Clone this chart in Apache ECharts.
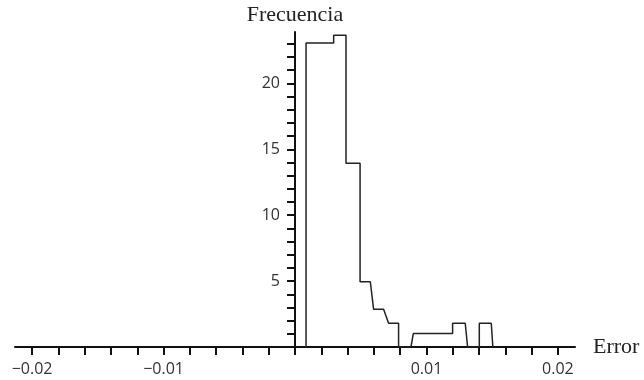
<!DOCTYPE html>
<html>
<head>
<meta charset="utf-8">
<script src="https://cdn.jsdelivr.net/npm/echarts@6/dist/echarts.min.js"></script>
<style>
  html, body { margin: 0; padding: 0; background: #fff; }
  #chart { width: 644px; height: 380px; }
</style>
</head>
<body>
<div id="chart"></div>
<script>
// outline of the histogram, vertex by vertex (error, frequency)
var errorX = [0.00084, 0.00084, 0.00294, 0.00294, 0.00388, 0.00388, 0.00495, 0.00495, 0.00573, 0.00598,
              0.00674, 0.00712, 0.00788, 0.00788, 0.00882, 0.00900, 0.01199, 0.01199, 0.01295, 0.01313,
              0.01402, 0.01402, 0.01493, 0.01505];
var freqY  = [0, 23.07, 23.07, 23.65, 23.65, 13.94, 13.94, 4.95, 4.95, 2.86,
              2.86, 1.8, 1.8, 0, 0, 1.02, 1.02, 1.8, 1.8, 0,
              0, 1.8, 1.8, 0];

// tick marks and labels
var xTicks = [];
for (var i = -10; i <= 10; i++) xTicks.push(i * 0.002);
var xLabels = [-0.02, -0.01, 0.01, 0.02];
var yTicks = [];
for (var j = 1; j <= 23; j++) yTicks.push(j);
var yLabels = [5, 10, 15, 20];

var xMin = -0.0213, xMax = 0.0213;
var gridLeft = 15, gridRight = 69;

var chart = echarts.init(document.getElementById('chart'));

// y axis sits at x = 0, so shift it right from the grid's left edge
var plotW = 644 - gridLeft - gridRight;
var yOffset = -plotW * (0 - xMin) / (xMax - xMin);

var option = {
    animation: false,
    grid: {
        left: gridLeft,
        right: gridRight,
        top: 32,
        bottom: 33,
        outerBoundsMode: 'none'
    },
    xAxis: {
        type: 'value',
        min: xMin,
        max: xMax,
        name: 'Error',
        nameLocation: 'end',
        nameGap: 18,
        nameTextStyle: { fontFamily: 'Liberation Serif', fontSize: 22, color: '#222' },
        axisLine: { show: true, onZero: true, lineStyle: { color: '#111', width: 2 } },
        axisTick: { show: true, inside: false, length: 8, customValues: xTicks, lineStyle: { color: '#111', width: 2 } },
        axisLabel: {
            customValues: xLabels,
            margin: 14,
            fontFamily: 'Open Sans',
            fontSize: 16,
            color: '#333',
            formatter: function (v) {
                return v < 0 ? '\u2212' + Math.abs(v) : String(v);
            }
        },
        splitLine: { show: false }
    },
    yAxis: {
        type: 'value',
        min: 0,
        max: 23.9,
        position: 'left',
        offset: yOffset,
        name: 'Frecuencia',
        nameLocation: 'end',
        nameGap: 6,
        nameTextStyle: { fontFamily: 'Liberation Serif', fontSize: 22, color: '#222' },
        axisLine: { show: true, onZero: false, lineStyle: { color: '#111', width: 2 } },
        axisTick: { show: true, inside: false, length: 8, customValues: yTicks, lineStyle: { color: '#111', width: 2 } },
        axisLabel: {
            customValues: yLabels,
            margin: 15,
            fontFamily: 'Open Sans',
            fontSize: 16,
            color: '#333'
        },
        splitLine: { show: false }
    },
    series: [{
        type: 'line',
        data: errorX.map(function (x, k) { return [x, freqY[k]]; }),
        symbol: 'none',
        lineStyle: { color: '#222', width: 1.5 }
    }]
};

chart.setOption(option);
</script>
</body>
</html>
